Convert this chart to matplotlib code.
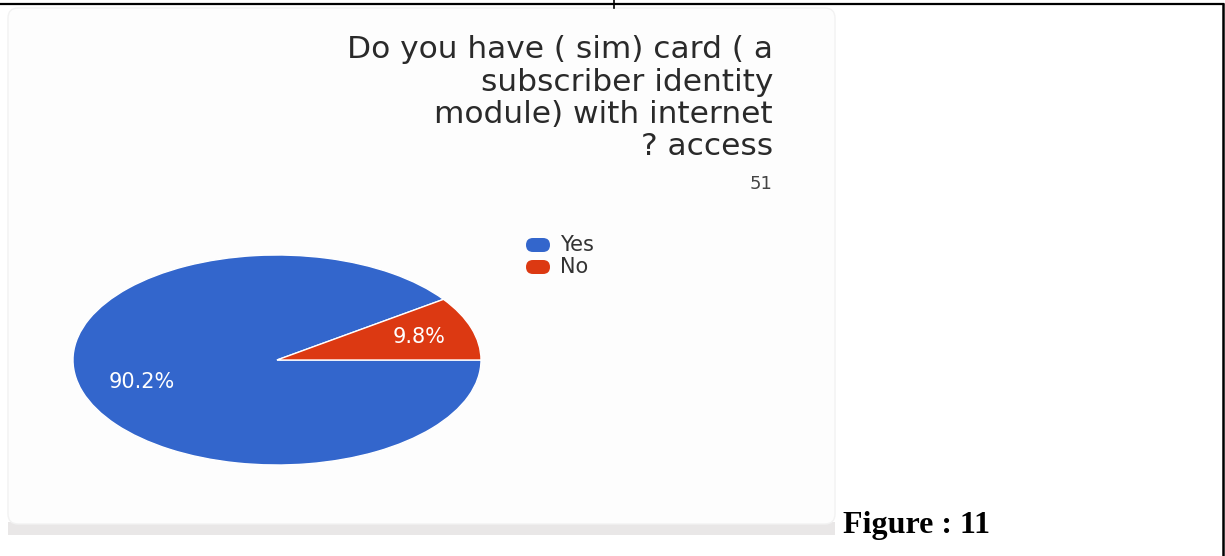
import matplotlib.pyplot as plt
from matplotlib.patches import FancyBboxPatch, Rectangle

W, H = 1225, 556

answers = ["Yes", "No"]
counts = [46, 5]
shares = ["90.2%", "9.8%"]
colors = ["#3366cc", "#dc3912"]
title_lines = ["Do you have ( sim) card ( a", "subscriber identity",
               "module) with internet", "? access"]
n_responses = "51"
caption = "Figure : 11"

fig = plt.figure(figsize=(W / 100, H / 100), dpi=100)
fig.patch.set_facecolor("white")

# full-figure axes in pixel coordinates for the page decorations
bg = fig.add_axes([0, 0, 1, 1])
bg.set_xlim(0, W)
bg.set_ylim(H, 0)
bg.axis("off")

# card with bottom shadow
bg.add_patch(Rectangle((8, 522), 827, 13, facecolor="#e9e7e7", edgecolor="none"))
bg.add_patch(FancyBboxPatch((8, 8), 827, 516, boxstyle="round,pad=0,rounding_size=10",
                            facecolor="#fdfdfd", edgecolor="#f2f2f2", linewidth=1))

# page table lines
bg.plot([0, 1223], [4, 4], color="black", lw=1.6)
bg.plot([614, 614], [0, 8], color="black", lw=1.2)
bg.plot([1223, 1223], [4, H], color="black", lw=1.8)

font = ["DejaVu Sans"]
for i, line in enumerate(title_lines):
    bg.text(773, 50 + i * 32.3, line, ha="right", va="center", fontsize=22.5,
            color="#2a2a2a", family=font)
bg.text(772, 184, n_responses, ha="right", va="center", fontsize=13,
        color="#444444", family=font)

# legend
for i, (lab, c) in enumerate(zip(answers, colors)):
    y = 245 + i * 22
    bg.add_patch(FancyBboxPatch((526, y - 7), 24, 14, boxstyle="round,pad=0,rounding_size=7",
                                facecolor=c, edgecolor="none"))
    bg.text(560, y, lab, ha="left", va="center", fontsize=15, color="#333333", family=font)

bg.text(843, 526, caption, ha="left", va="center", fontsize=23, fontweight="bold",
        color="black", family=["Liberation Serif", "DejaVu Serif"])

# stretched pie
ax = fig.add_axes([73 / W, (H - 465) / H, 408 / W, 210 / H])
wedges, _ = ax.pie(counts, colors=colors, startangle=0, counterclock=False,
                   wedgeprops=dict(edgecolor="white", linewidth=1))
ax.set_aspect("auto")
ax.set_xlim(-1, 1)
ax.set_ylim(-1, 1)
ax.axis("off")

# slice labels, placed in page pixels but drawn on top of the pie
ax.text(142, 382, shares[0], ha="center", va="center", fontsize=15, color="white",
        family=font, transform=bg.transData)
ax.text(419, 337, shares[1], ha="center", va="center", fontsize=15, color="white",
        family=font, transform=bg.transData)

fig.savefig("out.png", dpi=100, facecolor="white")
